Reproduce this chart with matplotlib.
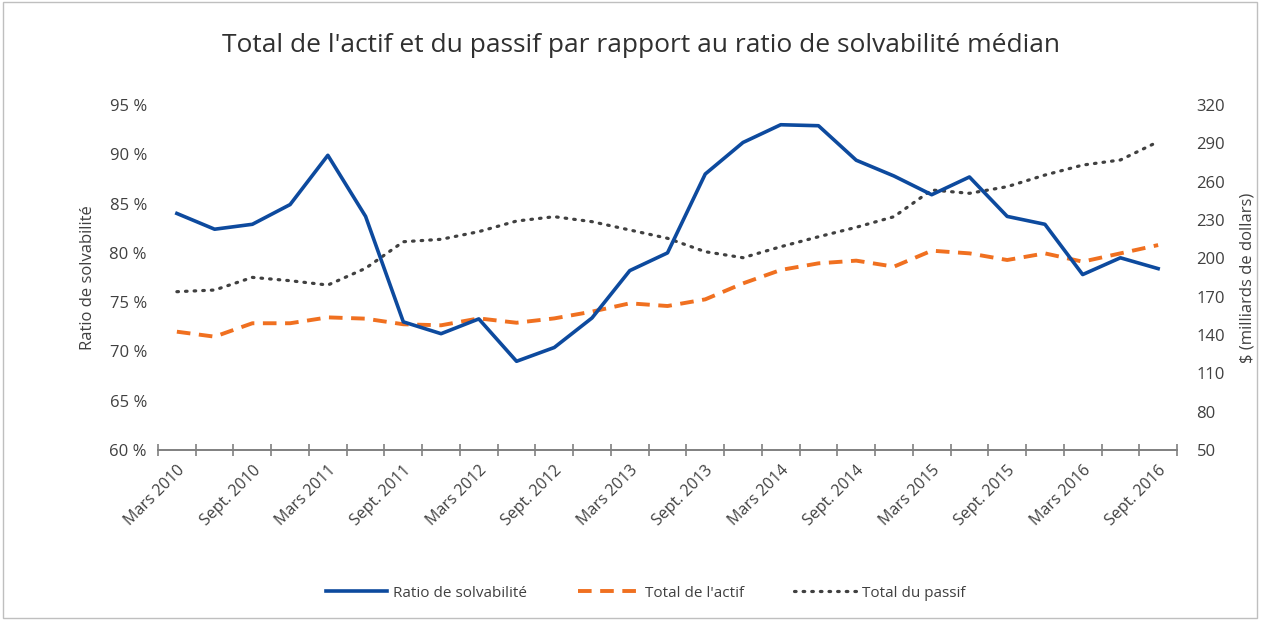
import matplotlib
matplotlib.use("Agg")
import matplotlib.pyplot as plt
from matplotlib.patches import Rectangle

plt.rcParams['font.family'] = ['Open Sans', 'DejaVu Sans']

labels_all = []
for yr in range(2010, 2017):
    for q in ["Mars", "Juin", "Sept.", "Déc."]:
        labels_all.append(f"{q} {yr}")
categories = labels_all[:27]  # Mars 2010 .. Sept. 2016

ratio = [84.0, 82.4, 82.9, 84.9, 89.9, 83.7, 73.0, 71.8, 73.3, 69.0, 70.4, 73.4,
         78.2, 80.0, 88.0, 91.2, 93.0, 92.9, 89.4, 87.8, 85.9, 87.7, 83.7, 82.9,
         77.8, 79.5, 78.4]
actif = [142.6, 138.7, 149.2, 149.2, 153.8, 152.8, 148.4, 147.6, 153.0, 149.6,
         153.0, 158.3, 164.8, 162.7, 167.9, 180.4, 190.9, 196.1, 198.2, 193.5,
         206.0, 203.9, 198.7, 203.9, 197.4, 203.9, 210.4]
passif = [173.9, 175.2, 185.1, 182.5, 179.1, 192.2, 213.0, 214.9, 220.9, 229.2,
          232.6, 228.7, 222.2, 215.7, 205.2, 200.5, 209.1, 216.9, 224.3, 232.6,
          253.5, 250.9, 256.1, 265.2, 273.0, 277.0, 291.3]

left_ticks = [60, 65, 70, 75, 80, 85, 90, 95]
right_ticks = [50, 80, 110, 140, 170, 200, 230, 260, 290, 320]

fig = plt.figure(figsize=(12.61, 6.2), dpi=100)
ax = fig.add_axes([0.1253, 0.2742, 0.8081, 0.5564])
ax2 = ax.twinx()

x = list(range(len(categories)))
blue = '#0D4A9E'
orange = '#F07020'
grey = '#404040'
txt = '#404040'

l1, = ax.plot(x, ratio, color=blue, lw=2.6, solid_joinstyle='round', zorder=3,
              label='Ratio de solvabilité')
l2, = ax2.plot(x, actif, color=orange, lw=2.8, ls=(0, (3.5, 2.2)),
               label="Total de l'actif")
l3, = ax2.plot(x, passif, color=grey, lw=2.3, ls=(0, (0.5, 2.2)),
               dash_capstyle='round', label='Total du passif')
ax.set_zorder(ax2.get_zorder() + 1)
ax.patch.set_visible(False)

ax.set_xlim(-0.5, len(categories) - 0.5)
ax.set_ylim(60, 95)
ax2.set_ylim(50, 320)
ax.set_yticks(left_ticks)
ax.set_yticklabels([f"{v} %" for v in left_ticks])
ax2.set_yticks(right_ticks)
ax2.set_yticklabels([str(v) for v in right_ticks])

ax.set_xticks(x[::2])
ax.set_xticklabels(categories[::2], rotation=45, ha='right', va='top',
                   rotation_mode='anchor', fontsize=11.5, color=txt)
ax.set_xticks([i - 0.5 for i in range(len(categories) + 1)], minor=True)
ax.tick_params(axis='x', which='major', length=0, pad=9)
ax.tick_params(axis='x', which='minor', length=9, direction='inout',
               color='#808080', width=1.2)

for a in (ax, ax2):
    for s in ('top', 'left', 'right'):
        a.spines[s].set_visible(False)
    a.spines['bottom'].set_color('#808080')
    a.spines['bottom'].set_linewidth(1.4)
ax2.spines['bottom'].set_visible(False)

ax.tick_params(axis='y', length=0, pad=8, labelsize=12, labelcolor=txt)
ax2.tick_params(axis='y', length=0, pad=14, labelsize=12, labelcolor=txt)

ax.set_ylabel('Ratio de solvabilité', fontsize=12, color=txt, labelpad=10)
ax2.set_ylabel('$ (milliards de dollars)', fontsize=12, color=txt,
               rotation=90, labelpad=10)

fig.text(0.508, 0.927, "Total de l'actif et du passif par rapport au ratio de solvabilité médian",
         ha='center', va='center', fontsize=19, color='#303030')

fig.legend(handles=[l1, l2, l3], loc='center', bbox_to_anchor=(0.512, 0.043),
           ncol=3, frameon=False, fontsize=11, handlelength=4.0,
           columnspacing=3.3, handletextpad=0.4, labelcolor=txt)

fig.patches.append(Rectangle((0.002, 0.003), 0.995, 0.993, transform=fig.transFigure,
                             fill=False, edgecolor='#BFBFBF', lw=1))

fig.savefig('out.png', dpi=100)
